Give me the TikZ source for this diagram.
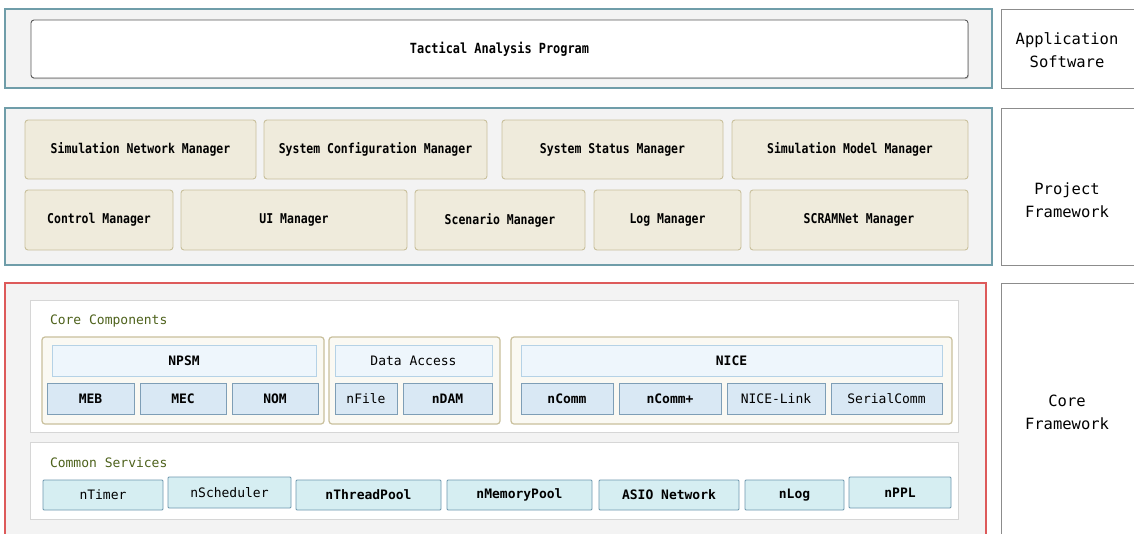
\documentclass[tikz,border=0pt]{standalone}
\usepackage{fontspec}
\newfontfamily\monof{DejaVu Sans Mono}
\newfontfamily\condf[FakeStretch=0.85]{DejaVu Sans Mono}
\usetikzlibrary{shadows}
\definecolor{secfill}{HTML}{F3F3F3}
\definecolor{tealb}{HTML}{6F9DA9}
\definecolor{redb}{HTML}{DD5A5A}
\definecolor{beigef}{HTML}{EFEBDC}
\definecolor{beigeb}{HTML}{C9C09C}
\definecolor{groupf}{HTML}{FAF9F3}
\definecolor{headf}{HTML}{EEF6FC}
\definecolor{headb}{HTML}{B5D2E6}
\definecolor{subf}{HTML}{D9E8F4}
\definecolor{subb}{HTML}{7E9EB6}
\definecolor{svcf}{HTML}{D6EEF2}
\definecolor{svcb}{HTML}{6E98AE}
\definecolor{olive}{HTML}{4E621C}
\definecolor{panelb}{HTML}{D6D6D6}
\newcommand\bx[7]{\node[#1,anchor=north west,minimum width={#5-#3},minimum height={#6-#4}] (#2) at (#3,#4) {#7};}
\begin{document}
\begin{tikzpicture}[x=1pt,y=-1pt,
  every node/.style={inner sep=0pt,outer sep=0pt},
  section/.style={draw=tealb,fill=secfill,line width=1.2pt},
  redsection/.style={draw=redb,fill=secfill,line width=1.3pt},
  labelbox/.style={draw=black!45,fill=white,line width=0.8pt,align=center,font=\monof\fontsize{15.5}{23}\selectfont},
  appbox/.style={draw=black!65,fill=white,rounded corners=3pt,line width=0.9pt,drop shadow={shadow xshift=0.8pt,shadow yshift=-1.2pt,opacity=0.35},font=\condf\bfseries\fontsize{14}{16}\selectfont},
  mgr/.style={draw=beigeb,fill=beigef,rounded corners=3pt,line width=0.9pt,font=\condf\bfseries\fontsize{13.5}{16}\selectfont},
  panel/.style={draw=panelb,fill=white,line width=0.8pt},
  group/.style={draw=beigeb,fill=groupf,rounded corners=3pt,line width=1.2pt},
  head/.style={draw=headb,fill=headf,line width=0.8pt,font=\monof\fontsize{13}{15}\selectfont},
  sub/.style={draw=subb,fill=subf,line width=0.9pt,font=\monof\fontsize{13}{15}\selectfont},
  svc/.style={draw=svcb,fill=svcf,line width=0.9pt,rounded corners=1pt,font=\monof\fontsize{13}{15}\selectfont},
  ptitle/.style={anchor=west,text=olive,font=\monof\fontsize{13}{15}\selectfont}
]
\useasboundingbox (0,0) rectangle (1134,533);
\clip (0,0) rectangle (1134,533);
\fill[white] (0,0) rectangle (1134,533);

% Application software
\bx{section}{s1}{5}{9}{992}{88}{}
\bx{appbox}{tap}{31}{20}{968}{78}{Tactical Analysis Program}
\bx{labelbox}{l1}{1001}{9}{1145}{88}{}
\node[labelbox,draw=none,fill=none] (l1t) at (1067,50) {Application\\Software};

% Project framework
\bx{section}{s2}{5}{108}{992}{265}{}
\bx{mgr}{snm}{25}{120}{256}{179}{Simulation Network Manager}
\bx{mgr}{scm}{264}{120}{487}{179}{System Configuration Manager}
\bx{mgr}{ssm}{502}{120}{723}{179}{System Status Manager}
\bx{mgr}{smm}{732}{120}{968}{179}{Simulation Model Manager}
\bx{mgr}{ctm}{25}{190}{173}{250}{Control Manager}
\bx{mgr}{uim}{181}{190}{407}{250}{UI Manager}
\bx{mgr}{scn}{415}{190}{585}{250}{Scenario Manager}
\bx{mgr}{lgm}{594}{190}{741}{250}{Log Manager}
\bx{mgr}{srm}{750}{190}{968}{250}{SCRAMNet Manager}
\bx{labelbox}{l2}{1001}{108}{1145}{265}{}
\node[labelbox,draw=none,fill=none] (l2t) at (1067,200) {Project\\Framework};

% Core framework
\bx{redsection}{s3}{5}{283}{986}{545}{}
\bx{labelbox}{l3}{1001}{283}{1145}{545}{}
\node[labelbox,draw=none,fill=none] (l3t) at (1067,412) {Core\\Framework};

\bx{panel}{cc}{30}{300}{958}{432}{}
\node[ptitle] (cct) at (50,321) {Core Components};
\bx{group}{g1}{42}{337}{324}{424}{}
\bx{group}{g2}{329}{337}{500}{424}{}
\bx{group}{g3}{511}{337}{952}{424}{}
\bx{head}{npsm}{52}{345}{316}{376}{\bfseries NPSM}
\bx{sub}{meb}{47}{383}{134}{414}{\bfseries MEB}
\bx{sub}{mec}{140}{383}{226}{414}{\bfseries MEC}
\bx{sub}{nom}{232}{383}{318}{414}{\bfseries NOM}
\bx{head}{da}{335}{345}{492}{376}{Data Access}
\bx{sub}{nfile}{335}{383}{397}{414}{nFile}
\bx{sub}{ndam}{403}{383}{492}{414}{\bfseries nDAM}
\bx{head}{nice}{521}{345}{942}{376}{\bfseries NICE}
\bx{sub}{ncomm}{521}{383}{613}{414}{\bfseries nComm}
\bx{sub}{ncommp}{619}{383}{721}{414}{\bfseries nComm+}
\bx{sub}{nlink}{727}{383}{825}{414}{NICE-Link}
\bx{sub}{serial}{831}{383}{942}{414}{SerialComm}

\bx{panel}{cs}{30}{442}{958}{519}{}
\node[ptitle] (cst) at (50,463) {Common Services};
\bx{svc}{ntimer}{43}{480}{163}{510}{nTimer}
\bx{svc}{nsched}{168}{477}{291}{508}{nScheduler}
\bx{svc}{nthread}{296}{480}{441}{510}{\bfseries nThreadPool}
\bx{svc}{nmem}{447}{480}{592}{510}{\bfseries nMemoryPool}
\bx{svc}{asio}{599}{480}{739}{510}{\bfseries ASIO Network}
\bx{svc}{nlog}{745}{480}{844}{510}{\bfseries nLog}
\bx{svc}{nppl}{849}{477}{951}{508}{\bfseries nPPL}
\end{tikzpicture}
\end{document}
